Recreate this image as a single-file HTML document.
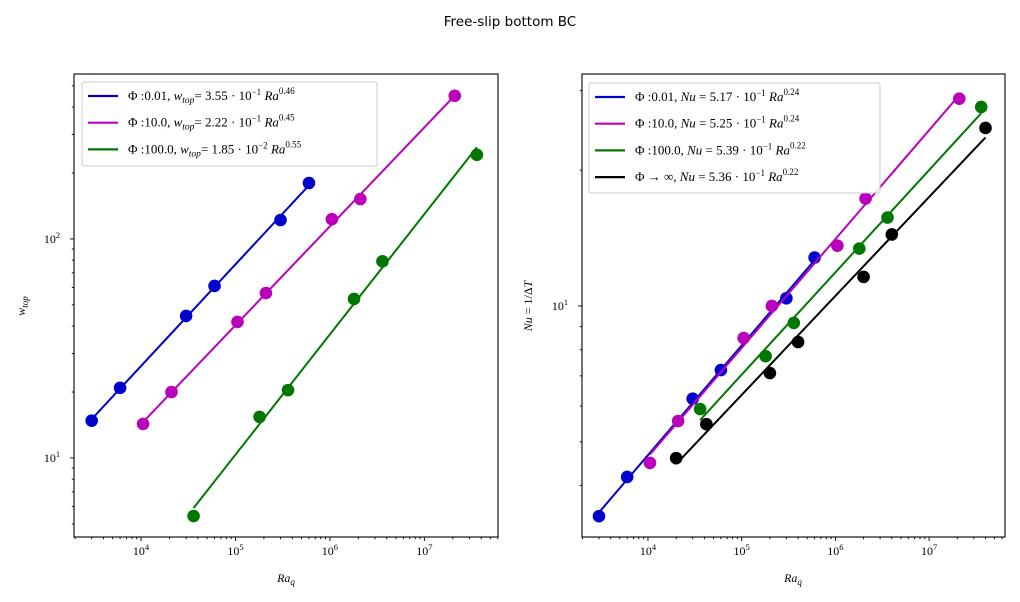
<!DOCTYPE html>
<html><head><meta charset="utf-8">
<style>
html,body{margin:0;padding:0;background:#fff;}
svg{display:block;}
.tl{font-family:"Liberation Serif","DejaVu Serif",serif;font-size:12px;fill:#000;}
.lg{font-family:"Liberation Serif","DejaVu Serif",serif;font-size:13px;fill:#000;}
.it{font-style:italic;}
</style></head>
<body>
<svg id="fig" width="1020" height="602" viewBox="0 0 1020 602" xmlns="http://www.w3.org/2000/svg">
<text x="510" y="26" text-anchor="middle" style="font-family:'DejaVu Sans','Liberation Sans',sans-serif;font-size:13.5px;">Free-slip bottom BC</text>
<g id="left"></g>
<g id="right"></g>
</svg>
<script>
// ---- Left chart data (w_top vs Ra_q) ----
const L_blue_ra = [3e3, 6e3, 3e4, 6e4, 3e5, 6e5];
const L_blue_w = [14.8, 20.9, 44.5, 61, 122, 180];
const L_mag_ra = [1.05e4, 2.1e4, 1.05e5, 2.1e5, 1.05e6, 2.1e6, 2.1e7];
const L_mag_w = [14.3, 20, 41.8, 56.6, 123, 152, 450];
const L_grn_ra = [3.6e4, 1.8e5, 3.6e5, 1.8e6, 3.6e6, 3.6e7];
const L_grn_w = [5.43, 15.4, 20.4, 53.2, 79, 242];
// ---- Right chart data (Nu vs Ra_q) ----
const R_blue_ra = [3e3, 6e3, 3e4, 6e4, 3e5, 6e5];
const R_blue_nu = [3.42, 4.18, 6.23, 7.21, 10.4, 12.8];
const R_mag_ra = [1.05e4, 2.1e4, 1.05e5, 2.1e5, 1.05e6, 2.1e6, 2.1e7];
const R_mag_nu = [4.49, 5.56, 8.49, 10, 13.6, 17.3, 28.8];
const R_grn_ra = [3.6e4, 1.8e5, 3.6e5, 1.8e6, 3.6e6, 3.6e7];
const R_grn_nu = [5.91, 7.74, 9.17, 13.4, 15.7, 27.6];
const R_blk_ra = [2e4, 4.2e4, 2e5, 4e5, 2e6, 4e6, 4e7];
const R_blk_nu = [4.6, 5.47, 7.1, 8.32, 11.6, 14.4, 24.8];
const xTickLabels = ["4","5","6","7"];

const NS = "http://www.w3.org/2000/svg";
function mk(parent, tag, attrs){ const e=document.createElementNS(NS,tag); for(const k in attrs) e.setAttribute(k,attrs[k]); parent.appendChild(e); return e; }

function makeAxes(box, xr, yr){
  const sx = v => box.x0 + (Math.log10(v)-xr[0])/(xr[1]-xr[0])*(box.x1-box.x0);
  const sy = v => box.y1 - (Math.log10(v)-yr[0])/(yr[1]-yr[0])*(box.y1-box.y0);
  return {sx, sy};
}

function drawFrame(g, box, xr, yr, sx, sy, yMajors){
  for(let d=Math.floor(xr[0]); d<=Math.ceil(xr[1]); d++){
    for(let m=1;m<10;m++){
      const v=m*Math.pow(10,d); const lv=Math.log10(v);
      if(lv<xr[0]||lv>xr[1]) continue;
      const x=sx(v);
      const t=mk(g,'line',{x1:x,x2:x,y1:box.y1,y2:box.y1+(m===1?4:2.2),stroke:'#000','stroke-width':0.9});
      
      
      if(m===1 && xTickLabels.includes(String(d))){
        const tx=mk(g,'text',{x:x,y:box.y1+18,'text-anchor':'middle','class':'tl'});
        
        
        tx.innerHTML='10<tspan dy="-5" font-size="8.5">'+d+'</tspan>';
      }
    }
  }
  for(let d=Math.floor(yr[0]); d<=Math.ceil(yr[1]); d++){
    for(let m=1;m<10;m++){
      const v=m*Math.pow(10,d); const lv=Math.log10(v);
      if(lv<yr[0]||lv>yr[1]) continue;
      const y=sy(v);
      const t=mk(g,'line',{x1:box.x0,x2:box.x0-(m===1?4:2.2),y1:y,y2:y,stroke:'#000','stroke-width':0.9});
      
      
      if(m===1 && yMajors.includes(d)){
        const tx=mk(g,'text',{x:box.x0-22,y:y+4,'text-anchor':'middle','class':'tl'});
        
        
        tx.innerHTML='10<tspan dy="-5" font-size="8.5">'+d+'</tspan>';
      }
    }
  }
}

function drawSeries(g, sx, sy, xs, ys, color, name){
  // least-squares power-law fit in log space
  const lx=xs.map(Math.log10), ly=ys.map(Math.log10), n=xs.length;
  const mx=lx.reduce((a,b)=>a+b)/n, my=ly.reduce((a,b)=>a+b)/n;
  let sxy=0,sxx=0; for(let i=0;i<n;i++){sxy+=(lx[i]-mx)*(ly[i]-my); sxx+=(lx[i]-mx)*(lx[i]-mx);}
  const e=sxy/sxx, b=my-e*mx;
  const xmin=Math.min(...xs), xmax=Math.max(...xs);
  const y0=Math.pow(10,b+e*Math.log10(xmin)), y1=Math.pow(10,b+e*Math.log10(xmax));
  const pl=mk(g,'line',{x1:sx(xmin),y1:sy(y0),x2:sx(xmax),y2:sy(y1),stroke:color,'stroke-width':2});
  
  
  xs.forEach((x,i)=>{
    const ci=mk(g,'circle',{cx:sx(x),cy:sy(ys[i]),r:6.3,fill:color});
    
    
  });
}

function drawBox(g, box){
  const r=mk(g,'rect',{x:box.x0,y:box.y0,width:box.x1-box.x0,height:box.y1-box.y0,fill:'none',stroke:'#000','stroke-width':1.1});
  
  
}

function legend(g, x, y, w, h, entries){
  const lg=mk(g,'g',{});
  
  
  mk(lg,'rect',{x:x,y:y,width:w,height:h,rx:2,fill:'#fff','fill-opacity':0.85,stroke:'#ccc','stroke-width':1});
  entries.forEach((en,i)=>{
    const yy=y+14+i*26.7;
    const eg=mk(lg,'g',{});
    
    
    mk(eg,'line',{x1:x+6,x2:x+36,y1:yy,y2:yy,stroke:en[0],'stroke-width':2.2});
    const t=mk(eg,'text',{x:x+46,y:yy+4,'class':'lg'});
    t.innerHTML=en[1];
  });
}

(function(){
  const g=document.getElementById('left');
  const box={x0:74,x1:498,y0:74,y1:537};
  const xr=[3.29,7.78], yr=[0.639,2.753];
  const {sx,sy}=makeAxes(box,xr,yr);
  drawSeries(g,sx,sy,L_blue_ra,L_blue_w,'#0000cc','blue-phi-0.01');
  drawSeries(g,sx,sy,L_mag_ra,L_mag_w,'#bb00bb','magenta-phi-10');
  drawSeries(g,sx,sy,L_grn_ra,L_grn_w,'#007700','green-phi-100');
  drawFrame(g,box,xr,yr,sx,sy,[1,2]);
  drawBox(g,box);
  const sub='<tspan class="it" font-size="9.5" dy="3">top</tspan>';
  legend(g,82,82,295,84,[
    ['#0000cc','Φ :0.01, <tspan class="it">w</tspan>'+sub+'<tspan dy="-3">= 3.55 · 10</tspan><tspan dy="-5" font-size="9">−1</tspan><tspan dy="5" class="it"> Ra</tspan><tspan dy="-6" font-size="9">0.46</tspan>'],
    ['#bb00bb','Φ :10.0, <tspan class="it">w</tspan>'+sub+'<tspan dy="-3">= 2.22 · 10</tspan><tspan dy="-5" font-size="9">−1</tspan><tspan dy="5" class="it"> Ra</tspan><tspan dy="-6" font-size="9">0.45</tspan>'],
    ['#007700','Φ :100.0, <tspan class="it">w</tspan>'+sub+'<tspan dy="-3">= 1.85 · 10</tspan><tspan dy="-5" font-size="9">−2</tspan><tspan dy="5" class="it"> Ra</tspan><tspan dy="-6" font-size="9">0.55</tspan>']
  ]);
  const xl=mk(g,'text',{x:286,y:582,'text-anchor':'middle','class':'tl it'});
  
  
  xl.innerHTML='Ra<tspan dy="3" font-size="9">q</tspan>';
  const yl=mk(g,'text',{x:0,y:0,'text-anchor':'middle','class':'tl it',transform:'translate(25,306) rotate(-90)'});
  
  
  yl.innerHTML='w<tspan dy="3" font-size="9">top</tspan>';
})();

(function(){
  const g=document.getElementById('right');
  const box={x0:582,x1:1005,y0:74,y1:537};
  const xr=[3.296,7.81], yr=[0.488,1.514];
  const {sx,sy}=makeAxes(box,xr,yr);
  drawSeries(g,sx,sy,R_blue_ra,R_blue_nu,'#0000cc','blue-phi-0.01');
  drawSeries(g,sx,sy,R_mag_ra,R_mag_nu,'#bb00bb','magenta-phi-10');
  drawSeries(g,sx,sy,R_grn_ra,R_grn_nu,'#007700','green-phi-100');
  drawSeries(g,sx,sy,R_blk_ra,R_blk_nu,'#000000','black-phi-inf');
  drawFrame(g,box,xr,yr,sx,sy,[1]);
  drawBox(g,box);
  const tail=(c,e)=>'<tspan> = '+c+' · 10</tspan><tspan dy="-5" font-size="9">−1</tspan><tspan dy="5" class="it"> Ra</tspan><tspan dy="-6" font-size="9">'+e+'</tspan>';
  legend(g,589,83,291,110,[
    ['#0000cc','Φ :0.01, <tspan class="it">Nu</tspan>'+tail('5.17','0.24')],
    ['#bb00bb','Φ :10.0, <tspan class="it">Nu</tspan>'+tail('5.25','0.24')],
    ['#007700','Φ :100.0, <tspan class="it">Nu</tspan>'+tail('5.39','0.22')],
    ['#000000','Φ → ∞, <tspan class="it">Nu</tspan>'+tail('5.36','0.22')]
  ]);
  const xl=mk(g,'text',{x:793,y:582,'text-anchor':'middle','class':'tl it'});
  
  
  xl.innerHTML='Ra<tspan dy="3" font-size="9">q</tspan>';
  const yl=mk(g,'text',{x:0,y:0,'text-anchor':'middle','class':'tl',transform:'translate(532,306) rotate(-90)'});
  
  
  yl.innerHTML='<tspan class="it">Nu</tspan> = 1/Δ<tspan class="it">T</tspan>';
})();
</script>
</body></html>
